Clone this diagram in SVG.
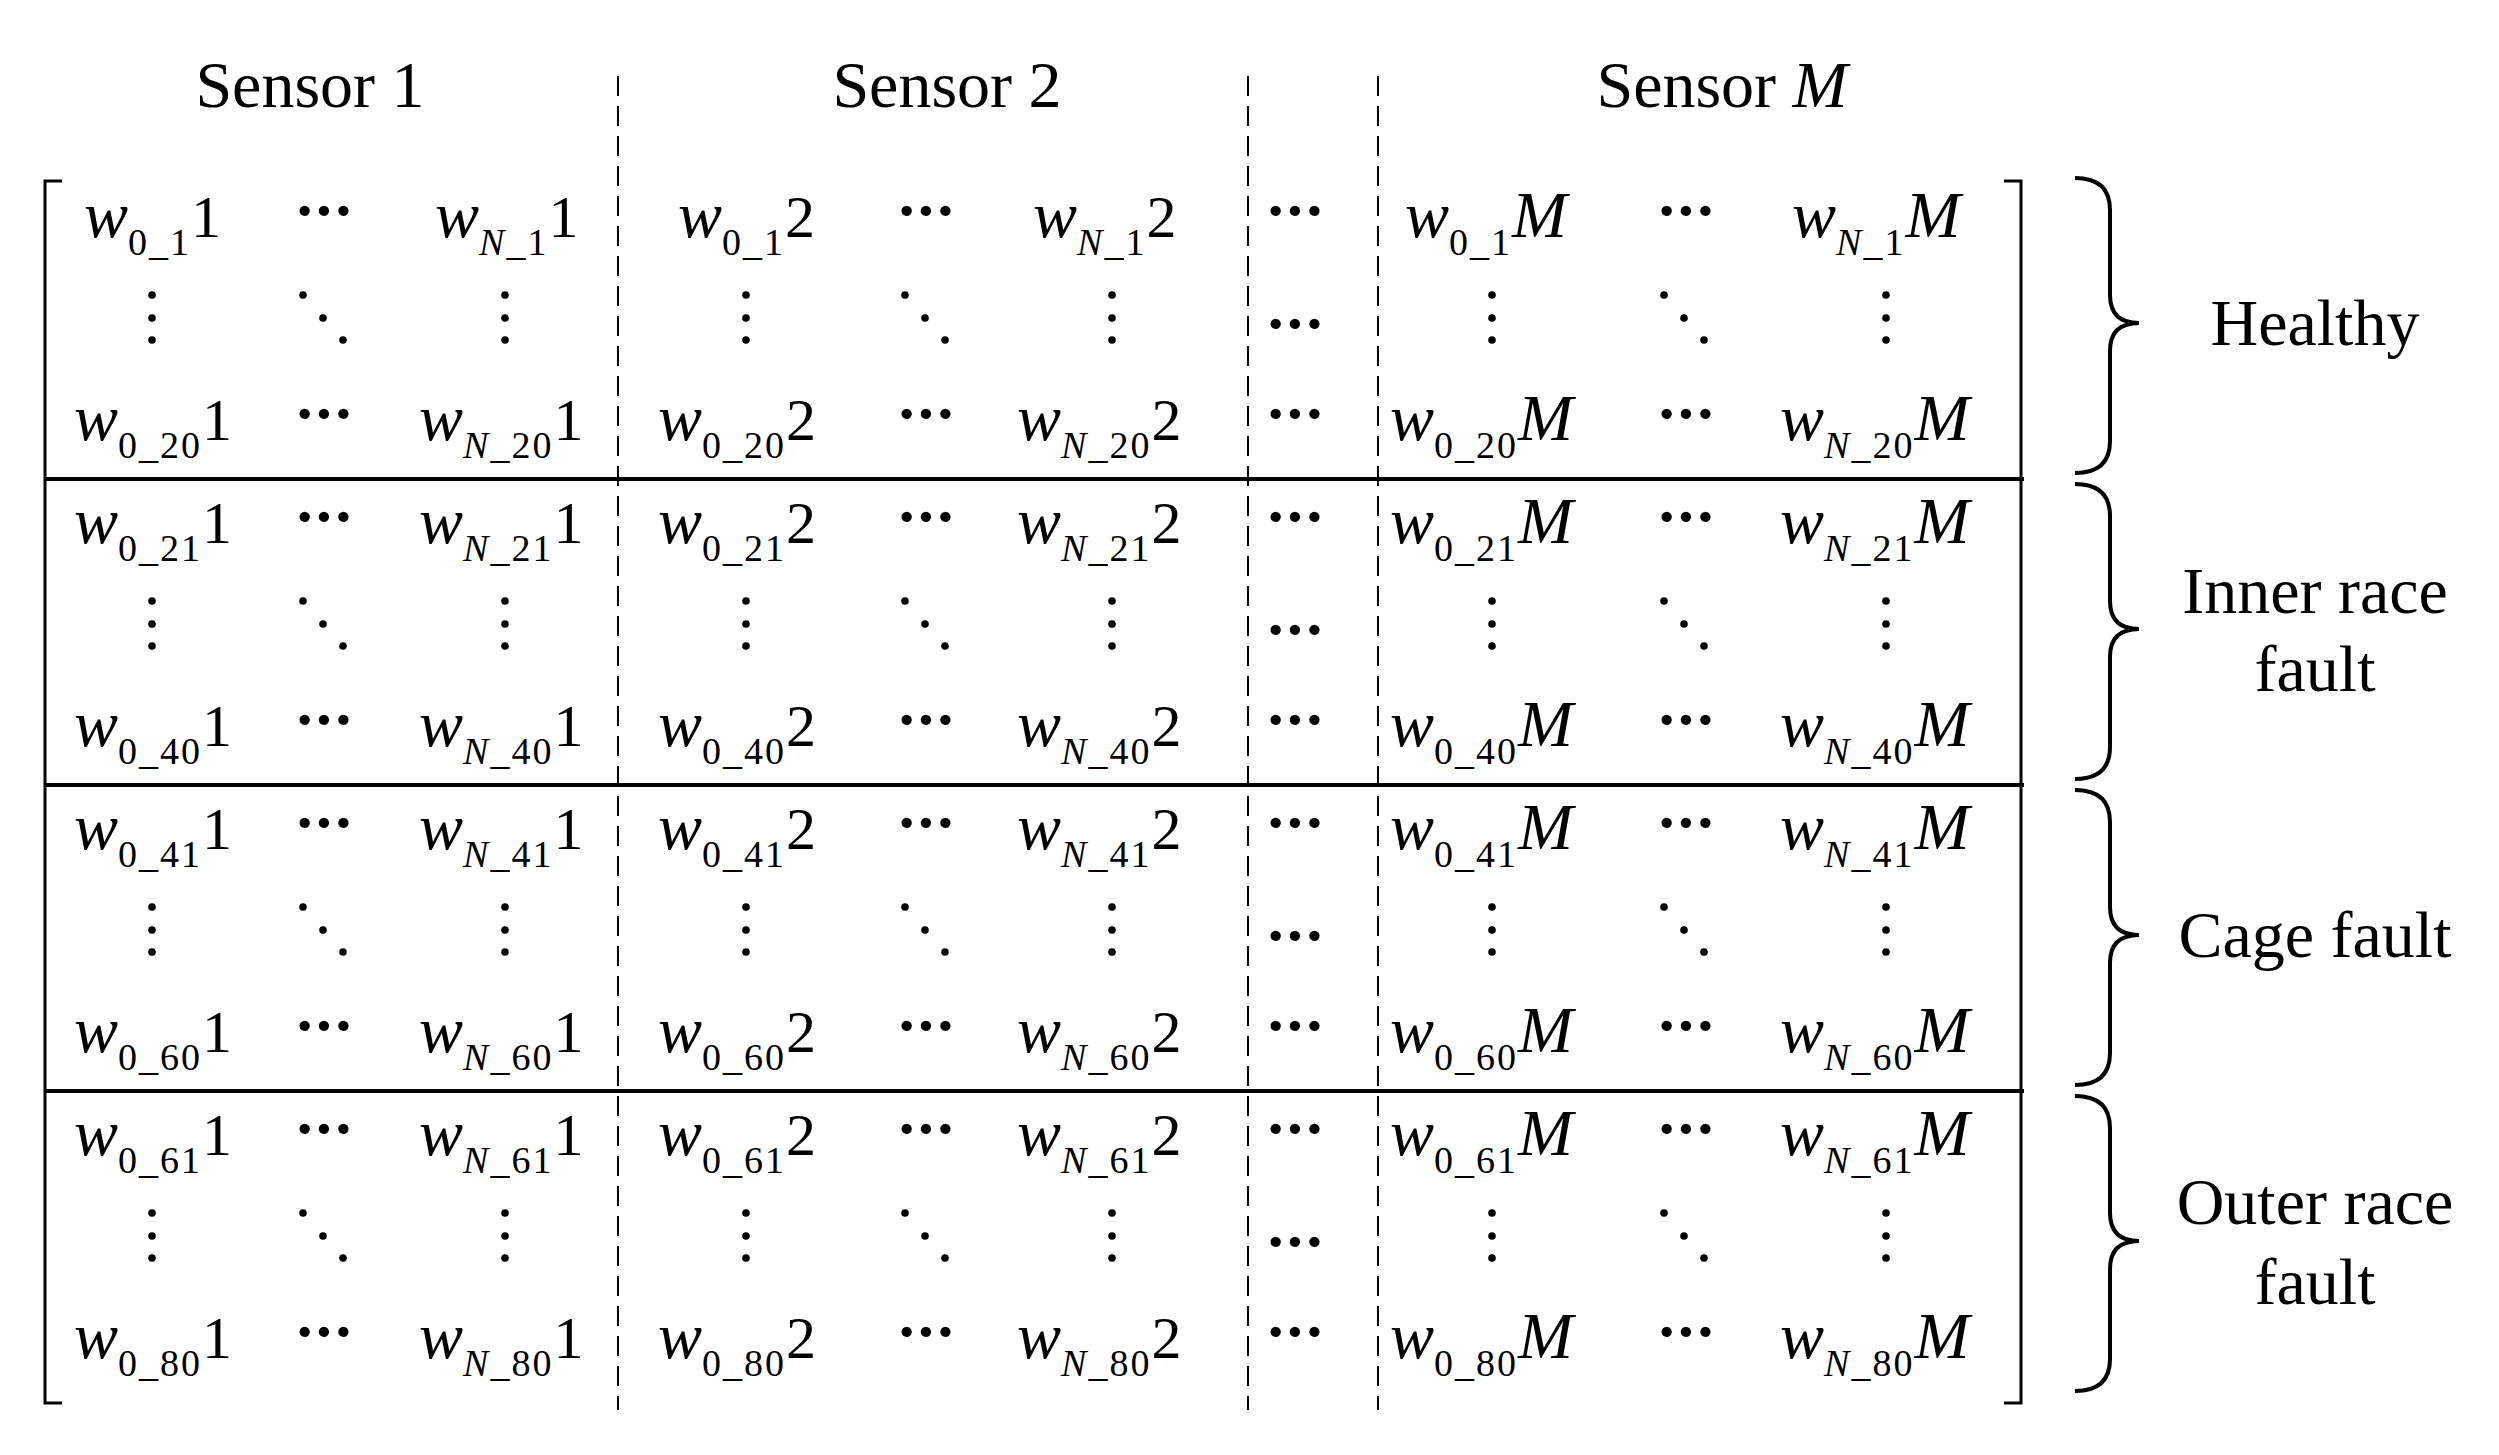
<svg xmlns="http://www.w3.org/2000/svg" width="2499" height="1455" viewBox="0 0 2499 1455">
<style>
text{font-family:"Liberation Serif","Times New Roman",serif;fill:#000}
.h{font-size:66px;text-anchor:middle}
.e{font-size:60px}
.i{font-style:italic;font-size:66px}
.sb{font-size:38px;letter-spacing:2px}
.n{font-style:italic;font-size:38px}
.el{font-size:64px;font-weight:bold;text-anchor:middle;letter-spacing:-2px}
.ln{stroke:#000;fill:none}
</style>
<defs>
<g id="vd"><circle cx="0" cy="295" r="3.8"/><circle cx="0" cy="318" r="3.8"/><circle cx="0" cy="340" r="3.8"/></g>
<g id="dd"><circle cx="-20" cy="295" r="3.8"/><circle cx="0" cy="318" r="3.8"/><circle cx="20" cy="340" r="3.8"/></g>
<path id="br" d="M2075,178 Q2110,178 2110,210 L2110,295 Q2110,323 2139,323 Q2110,323 2110,351 L2110,441 Q2110,473 2075,473" fill="none" stroke="#000" stroke-width="4"/>
</defs>
<g id="headers">
<text class="h" x="310" y="107">Sensor 1</text>
<text class="h" x="947" y="107">Sensor 2</text>
<text class="h" x="1722" y="107">Sensor <tspan font-style="italic">M</tspan></text>
</g>
<g id="connectors">
<path class="ln" stroke-width="3" d="M62,181 H45 V1403 H62 M2004,181 H2021 V1403 H2004"/>
<path class="ln" stroke-width="4" d="M45,479 H2024 M45,785 H2024 M45,1091 H2024"/>
<path class="ln" stroke-width="2" stroke-dasharray="20,10" d="M618,76 V1410 M1248,76 V1410 M1378,76 V1410"/>
</g>
<g id="braces">
<use href="#br"/>
<use href="#br" transform="translate(0,306)"/>
<use href="#br" transform="translate(0,612)"/>
<use href="#br" transform="translate(0,918)"/>
</g>
<g id="labels">
<text class="h" x="2315" y="345">Healthy</text>
<text class="h" x="2315" y="613">Inner race</text>
<text class="h" x="2315" y="691">fault</text>
<text class="h" x="2315" y="957">Cage fault</text>
<text class="h" x="2315" y="1224">Outer race</text>
<text class="h" x="2315" y="1304">fault</text>
</g>
<g id="dots">
<g id="dotblock">
<text class="el" x="323" y="232">···</text><text class="el" x="925" y="232">···</text><text class="el" x="1294" y="232">···</text><text class="el" x="1685" y="232">···</text>
<text class="el" x="323" y="435">···</text><text class="el" x="925" y="435">···</text><text class="el" x="1294" y="435">···</text><text class="el" x="1685" y="435">···</text>
<text class="el" x="1294" y="345">···</text>
<use href="#vd" x="152"/><use href="#dd" x="323"/><use href="#vd" x="505"/>
<use href="#vd" x="746"/><use href="#dd" x="925"/><use href="#vd" x="1112"/>
<use href="#vd" x="1492"/><use href="#dd" x="1684"/><use href="#vd" x="1886"/>
</g>
<use href="#dotblock" transform="translate(0,306)"/>
<use href="#dotblock" transform="translate(0,612)"/>
<use href="#dotblock" transform="translate(0,918)"/>
</g>
<g id="block1">
<text class="e" x="84" y="237"><tspan class="i">w</tspan><tspan class="sb" dy="18">0_1</tspan><tspan dy="-18">1</tspan></text>
<text class="e" x="435" y="237"><tspan class="i">w</tspan><tspan class="sb" dy="18"><tspan class="n">N</tspan>_1</tspan><tspan dy="-18">1</tspan></text>
<text class="e" x="678" y="237"><tspan class="i">w</tspan><tspan class="sb" dy="18">0_1</tspan><tspan dy="-18">2</tspan></text>
<text class="e" x="1033" y="237"><tspan class="i">w</tspan><tspan class="sb" dy="18"><tspan class="n">N</tspan>_1</tspan><tspan dy="-18">2</tspan></text>
<text class="e" x="1405" y="237"><tspan class="i">w</tspan><tspan class="sb" dy="18">0_1</tspan><tspan class="i" dy="-18">M</tspan></text>
<text class="e" x="1792" y="237"><tspan class="i">w</tspan><tspan class="sb" dy="18"><tspan class="n">N</tspan>_1</tspan><tspan class="i" dy="-18">M</tspan></text>
<text class="e" x="74" y="440"><tspan class="i">w</tspan><tspan class="sb" dy="18">0_20</tspan><tspan dy="-18">1</tspan></text>
<text class="e" x="419" y="440"><tspan class="i">w</tspan><tspan class="sb" dy="18"><tspan class="n">N</tspan>_20</tspan><tspan dy="-18">1</tspan></text>
<text class="e" x="658" y="440"><tspan class="i">w</tspan><tspan class="sb" dy="18">0_20</tspan><tspan dy="-18">2</tspan></text>
<text class="e" x="1017" y="440"><tspan class="i">w</tspan><tspan class="sb" dy="18"><tspan class="n">N</tspan>_20</tspan><tspan dy="-18">2</tspan></text>
<text class="e" x="1390" y="440"><tspan class="i">w</tspan><tspan class="sb" dy="18">0_20</tspan><tspan class="i" dy="-18">M</tspan></text>
<text class="e" x="1780" y="440"><tspan class="i">w</tspan><tspan class="sb" dy="18"><tspan class="n">N</tspan>_20</tspan><tspan class="i" dy="-18">M</tspan></text>
</g>
<g id="block2" transform="translate(0,306)">
<text class="e" x="74" y="237"><tspan class="i">w</tspan><tspan class="sb" dy="18">0_21</tspan><tspan dy="-18">1</tspan></text>
<text class="e" x="419" y="237"><tspan class="i">w</tspan><tspan class="sb" dy="18"><tspan class="n">N</tspan>_21</tspan><tspan dy="-18">1</tspan></text>
<text class="e" x="658" y="237"><tspan class="i">w</tspan><tspan class="sb" dy="18">0_21</tspan><tspan dy="-18">2</tspan></text>
<text class="e" x="1017" y="237"><tspan class="i">w</tspan><tspan class="sb" dy="18"><tspan class="n">N</tspan>_21</tspan><tspan dy="-18">2</tspan></text>
<text class="e" x="1390" y="237"><tspan class="i">w</tspan><tspan class="sb" dy="18">0_21</tspan><tspan class="i" dy="-18">M</tspan></text>
<text class="e" x="1780" y="237"><tspan class="i">w</tspan><tspan class="sb" dy="18"><tspan class="n">N</tspan>_21</tspan><tspan class="i" dy="-18">M</tspan></text>
<text class="e" x="74" y="440"><tspan class="i">w</tspan><tspan class="sb" dy="18">0_40</tspan><tspan dy="-18">1</tspan></text>
<text class="e" x="419" y="440"><tspan class="i">w</tspan><tspan class="sb" dy="18"><tspan class="n">N</tspan>_40</tspan><tspan dy="-18">1</tspan></text>
<text class="e" x="658" y="440"><tspan class="i">w</tspan><tspan class="sb" dy="18">0_40</tspan><tspan dy="-18">2</tspan></text>
<text class="e" x="1017" y="440"><tspan class="i">w</tspan><tspan class="sb" dy="18"><tspan class="n">N</tspan>_40</tspan><tspan dy="-18">2</tspan></text>
<text class="e" x="1390" y="440"><tspan class="i">w</tspan><tspan class="sb" dy="18">0_40</tspan><tspan class="i" dy="-18">M</tspan></text>
<text class="e" x="1780" y="440"><tspan class="i">w</tspan><tspan class="sb" dy="18"><tspan class="n">N</tspan>_40</tspan><tspan class="i" dy="-18">M</tspan></text>
</g>
<g id="block3" transform="translate(0,612)">
<text class="e" x="74" y="237"><tspan class="i">w</tspan><tspan class="sb" dy="18">0_41</tspan><tspan dy="-18">1</tspan></text>
<text class="e" x="419" y="237"><tspan class="i">w</tspan><tspan class="sb" dy="18"><tspan class="n">N</tspan>_41</tspan><tspan dy="-18">1</tspan></text>
<text class="e" x="658" y="237"><tspan class="i">w</tspan><tspan class="sb" dy="18">0_41</tspan><tspan dy="-18">2</tspan></text>
<text class="e" x="1017" y="237"><tspan class="i">w</tspan><tspan class="sb" dy="18"><tspan class="n">N</tspan>_41</tspan><tspan dy="-18">2</tspan></text>
<text class="e" x="1390" y="237"><tspan class="i">w</tspan><tspan class="sb" dy="18">0_41</tspan><tspan class="i" dy="-18">M</tspan></text>
<text class="e" x="1780" y="237"><tspan class="i">w</tspan><tspan class="sb" dy="18"><tspan class="n">N</tspan>_41</tspan><tspan class="i" dy="-18">M</tspan></text>
<text class="e" x="74" y="440"><tspan class="i">w</tspan><tspan class="sb" dy="18">0_60</tspan><tspan dy="-18">1</tspan></text>
<text class="e" x="419" y="440"><tspan class="i">w</tspan><tspan class="sb" dy="18"><tspan class="n">N</tspan>_60</tspan><tspan dy="-18">1</tspan></text>
<text class="e" x="658" y="440"><tspan class="i">w</tspan><tspan class="sb" dy="18">0_60</tspan><tspan dy="-18">2</tspan></text>
<text class="e" x="1017" y="440"><tspan class="i">w</tspan><tspan class="sb" dy="18"><tspan class="n">N</tspan>_60</tspan><tspan dy="-18">2</tspan></text>
<text class="e" x="1390" y="440"><tspan class="i">w</tspan><tspan class="sb" dy="18">0_60</tspan><tspan class="i" dy="-18">M</tspan></text>
<text class="e" x="1780" y="440"><tspan class="i">w</tspan><tspan class="sb" dy="18"><tspan class="n">N</tspan>_60</tspan><tspan class="i" dy="-18">M</tspan></text>
</g>
<g id="block4" transform="translate(0,918)">
<text class="e" x="74" y="237"><tspan class="i">w</tspan><tspan class="sb" dy="18">0_61</tspan><tspan dy="-18">1</tspan></text>
<text class="e" x="419" y="237"><tspan class="i">w</tspan><tspan class="sb" dy="18"><tspan class="n">N</tspan>_61</tspan><tspan dy="-18">1</tspan></text>
<text class="e" x="658" y="237"><tspan class="i">w</tspan><tspan class="sb" dy="18">0_61</tspan><tspan dy="-18">2</tspan></text>
<text class="e" x="1017" y="237"><tspan class="i">w</tspan><tspan class="sb" dy="18"><tspan class="n">N</tspan>_61</tspan><tspan dy="-18">2</tspan></text>
<text class="e" x="1390" y="237"><tspan class="i">w</tspan><tspan class="sb" dy="18">0_61</tspan><tspan class="i" dy="-18">M</tspan></text>
<text class="e" x="1780" y="237"><tspan class="i">w</tspan><tspan class="sb" dy="18"><tspan class="n">N</tspan>_61</tspan><tspan class="i" dy="-18">M</tspan></text>
<text class="e" x="74" y="440"><tspan class="i">w</tspan><tspan class="sb" dy="18">0_80</tspan><tspan dy="-18">1</tspan></text>
<text class="e" x="419" y="440"><tspan class="i">w</tspan><tspan class="sb" dy="18"><tspan class="n">N</tspan>_80</tspan><tspan dy="-18">1</tspan></text>
<text class="e" x="658" y="440"><tspan class="i">w</tspan><tspan class="sb" dy="18">0_80</tspan><tspan dy="-18">2</tspan></text>
<text class="e" x="1017" y="440"><tspan class="i">w</tspan><tspan class="sb" dy="18"><tspan class="n">N</tspan>_80</tspan><tspan dy="-18">2</tspan></text>
<text class="e" x="1390" y="440"><tspan class="i">w</tspan><tspan class="sb" dy="18">0_80</tspan><tspan class="i" dy="-18">M</tspan></text>
<text class="e" x="1780" y="440"><tspan class="i">w</tspan><tspan class="sb" dy="18"><tspan class="n">N</tspan>_80</tspan><tspan class="i" dy="-18">M</tspan></text>
</g>
</svg>
